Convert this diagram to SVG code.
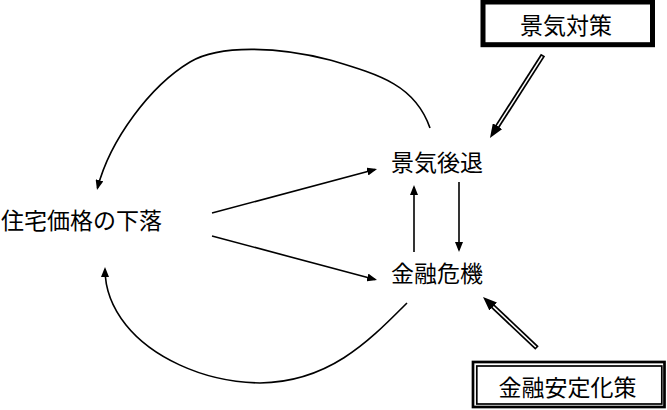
<svg xmlns="http://www.w3.org/2000/svg" width="667" height="410" viewBox="0 0 667 410">
<style>
.lbl{font-family:"Noto Sans CJK JP","Noto Sans CJK SC",sans-serif;font-size:23px;fill:#000;dominant-baseline:central}
.arr{fill:none;stroke:#000;stroke-width:1.6;marker-end:url(#ah)}
.dblo{stroke:#000;stroke-width:5;fill:none}
.dbli{stroke:#fff;stroke-width:1.5;fill:none;marker-end:url(#ah2)}
.box{fill:#fff;stroke:#000}
</style>
<defs>
<marker id="ah" viewBox="0 0 10 8" refX="8" refY="4" markerWidth="10" markerHeight="8" orient="auto" markerUnits="userSpaceOnUse"><path d="M0,0 L10,4 L0,8 z" fill="#000"/></marker>
<marker id="ah2" viewBox="0 0 14 11" refX="0" refY="5.5" markerWidth="14" markerHeight="11" orient="auto" markerUnits="userSpaceOnUse"><path d="M0,0 L14,5.5 L0,11 z" fill="#000"/></marker>
</defs>
<rect width="667" height="410" fill="#fff"/>
<g id="connectors">
<path class="arr" d="M430,128 C415,85 380,75 330,60 C280,47 220,44 190,62 C150,86 110,140 97.5,188"/>
<path class="arr" d="M407,303 C370,340 330,382 260,383 C200,382 150,355 126,325 C110,305 105,285 105,269"/>
<line class="arr" x1="212" y1="213" x2="375.1" y2="169.5"/>
<line class="arr" x1="212" y1="236" x2="375.1" y2="279.5"/>
<line class="arr" x1="414" y1="252" x2="414" y2="187"/>
<line class="arr" x1="459" y1="182" x2="459" y2="250"/>
<line class="dblo" x1="543" y1="55" x2="497" y2="127"/>
<line class="dbli" x1="542.2" y1="56.3" x2="497.5" y2="126.2"/>
<line class="dblo" x1="537" y1="348" x2="492.5" y2="306"/>
<line class="dbli" x1="535.9" y1="347" x2="493.2" y2="306.6"/>
</g>
<g id="n-juutaku"><text class="lbl" x="1" y="219">住宅価格の下落</text></g>
<g id="n-keikikoutai"><text class="lbl" x="391" y="161">景気後退</text></g>
<g id="n-kinyuukiki"><text class="lbl" x="391" y="272">金融危機</text></g>
<g id="n-keikitaisaku">
<rect class="box" x="483" y="2" width="169.5" height="42.7" stroke-width="5"/>
<text class="lbl" x="566" y="24" text-anchor="middle">景気対策</text>
</g>
<g id="n-anteika">
<rect class="box" x="473" y="362" width="191.5" height="45" stroke-width="2.7"/>
<rect x="476.8" y="366" width="185" height="38" fill="none" stroke="#000" stroke-width="1.7"/>
<text class="lbl" x="567.5" y="386" text-anchor="middle">金融安定化策</text>
</g>
</svg>
